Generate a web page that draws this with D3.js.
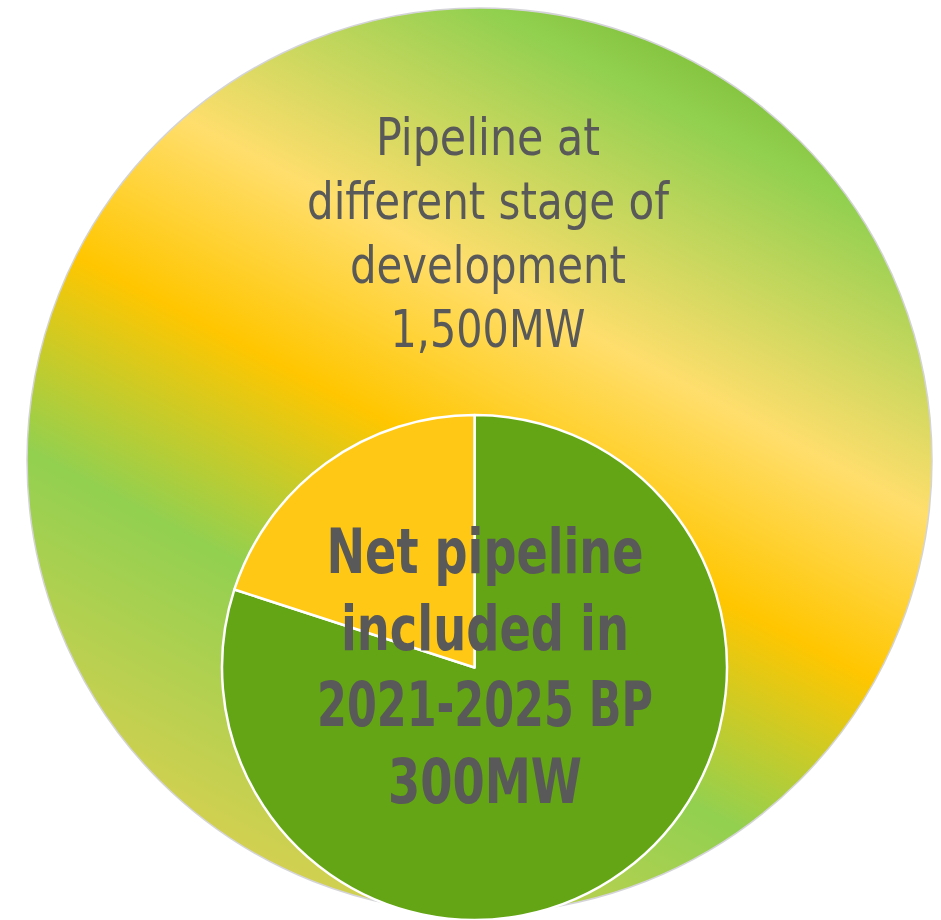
<!DOCTYPE html>
<html>
<head>
<meta charset="utf-8">
<script src="https://cdn.jsdelivr.net/npm/d3@7"></script>
<style>
  html, body { margin: 0; padding: 0; background: #fff; }
  svg { display: block; }
</style>
</head>
<body>
<svg id="chart" width="941" height="920"></svg>
<script>
// values (MW)
const totalPipeline = 1500;
const netPipeline = 300;
const sliceNames = ['rest', 'net'];
const sliceValues = [totalPipeline - netPipeline, netPipeline];
const outerLabel = ['Pipeline at', 'different stage of', 'development', '1,500MW'];
const innerLabel = ['Net pipeline', 'included in', '2021-2025 BP', '300MW'];

const svg = d3.select('#chart');

// big disc
const outer = {cx: 479.5, cy: 460.5, r: 452.5};
// pie disc
const inner = {cx: 474.5, cy: 667.5, r: 252.5};

// widths of each text line in the reference (condensed face)
const outerWidths = [224, 362, 276, 195];
const innerWidths = [317, 288, 336, 194];

const colors = d3.scaleOrdinal()
  .domain(sliceNames)
  .range(['#63a515', '#fec815']);

// striped gradient of the big disc, bands run at ~28deg
const ang = 28 * Math.PI / 180;
const nx = -Math.sin(ang), ny = Math.cos(ang);
const defs = svg.append('defs');
const grad = defs.append('linearGradient')
  .attr('id', 'bigGrad')
  .attr('gradientUnits', 'userSpaceOnUse')
  .attr('x1', outer.cx - nx * outer.r)
  .attr('y1', outer.cy - ny * outer.r)
  .attr('x2', outer.cx + nx * outer.r)
  .attr('y2', outer.cy + ny * outer.r);
[
  [0, '#86c540'],
  [0.056, '#92d050'],
  [0.32, '#ffde6c'],
  [0.51, '#ffc600'],
  [0.725, '#92d050'],
  [1, '#d2d050']
].forEach(s => grad.append('stop').attr('offset', s[0]).attr('stop-color', s[1]));

svg.append('circle')
  .attr('cx', outer.cx)
  .attr('cy', outer.cy)
  .attr('r', outer.r)
  .attr('fill', 'url(#bigGrad)')
  .attr('stroke', '#d4d4d8')
  .attr('stroke-width', 1.5);

// pie
const pie = d3.pie().sort(null).value(d => d);
const arc = d3.arc().innerRadius(0).outerRadius(inner.r);
const g = svg.append('g').attr('transform', `translate(${inner.cx},${inner.cy})`);
g.selectAll('path')
  .data(pie(sliceValues))
  .join('path')
  .attr('d', arc)
  .attr('fill', (d, i) => colors(sliceNames[i]))
  .attr('stroke', '#fff')
  .attr('stroke-width', 2.5)
  .attr('stroke-linejoin', 'round');

const font = '"Liberation Sans Narrow", "Arial Narrow", "DejaVu Sans Condensed", sans-serif';

svg.append('g')
  .selectAll('text')
  .data(outerLabel)
  .join('text')
  .attr('x', 488)
  .attr('y', (d, i) => 155 + i * 64)
  .attr('text-anchor', 'middle')
  .attr('font-family', font)
  .attr('font-size', 51)
  .attr('fill', '#595959')
  .attr('textLength', (d, i) => outerWidths[i])
  .attr('lengthAdjust', 'spacingAndGlyphs')
  .text(d => d);

svg.append('g')
  .selectAll('text')
  .data(innerLabel)
  .join('text')
  .attr('x', 485)
  .attr('y', (d, i) => 573 + i * 76.7)
  .attr('text-anchor', 'middle')
  .attr('font-family', font)
  .attr('font-weight', 'bold')
  .attr('font-size', 62)
  .attr('fill', '#595959')
  .attr('textLength', (d, i) => innerWidths[i])
  .attr('lengthAdjust', 'spacingAndGlyphs')
  .text(d => d);
</script>
</body>
</html>
